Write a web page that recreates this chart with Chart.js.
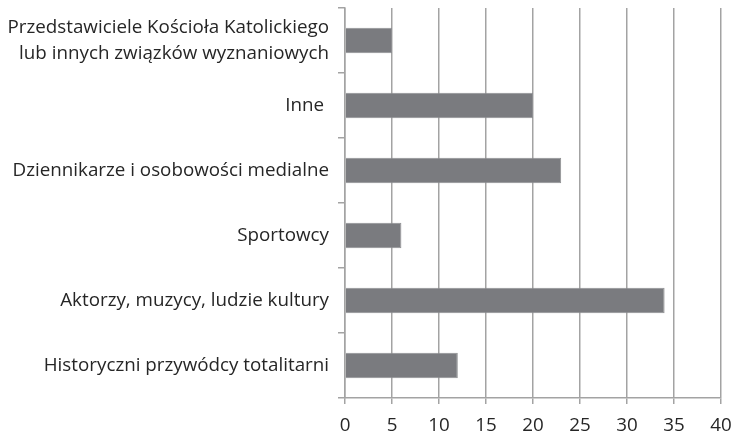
<!DOCTYPE html>
<html><head><meta charset="utf-8">
<script src="https://cdn.jsdelivr.net/npm/chart.js@4/dist/chart.umd.min.js"></script>
<style>html,body{margin:0;padding:0;background:#fff}#wrap{width:733px;height:437px}</style>
</head><body><div id="wrap"><canvas id="c" width="733" height="437"></canvas></div>
<script>
const categories = [
  ["Przedstawiciele Kościoła Katolickiego", "lub innych związków wyznaniowych"],
  "Inne ",
  "Dziennikarze i osobowości medialne",
  "Sportowcy",
  "Aktorzy, muzycy, ludzie kultury",
  "Historyczni przywódcy totalitarni"
];
const values = [5, 20, 23, 6, 34, 12];
const xTicks = [0, 5, 10, 15, 20, 25, 30, 35, 40];

const FONT = "'Open Sans'";
new Chart(document.getElementById('c'), {
  type: 'bar',
  data: { labels: categories, datasets: [{ data: values, backgroundColor: '#7a7b7f', borderColor: '#8e8f92', borderWidth: 1, barPercentage: 0.39, categoryPercentage: 1 }] },
  options: {
    indexAxis: 'y', responsive: false, animation: false,
    layout: { padding: { top: 8, right: 12, left: 0, bottom: 0 } },
    plugins: { legend: { display: false }, tooltip: { enabled: false } },
    scales: {
      x: {
        min: 0, max: 40,
        afterBuildTicks: s => { s.ticks = xTicks.map(v => ({ value: v })); },
        grid: { color: '#a3a3a3', lineWidth: 1.5, tickLength: 6, drawTicks: true },
        border: { color: '#a3a3a3', width: 1.5 },
        ticks: { color: '#262626', font: { family: FONT, size: 18.8 }, padding: 10 },
        afterFit: s => { s.height = 39; s.paddingLeft = 0; s.paddingRight = 0; }
      },
      y: {
        grid: { drawOnChartArea: false, color: '#a3a3a3', lineWidth: 1.5, tickLength: 7 },
        border: { color: '#a3a3a3', width: 1.5 },
        ticks: { color: '#262626', font: { family: FONT, size: 18.8, lineHeight: 1.38 }, padding: 9, autoSkip: false },
        afterFit: s => { s.width = 345; s.paddingTop = 0; s.paddingBottom = 0; }
      }
    }
  }
});
</script></body></html>
